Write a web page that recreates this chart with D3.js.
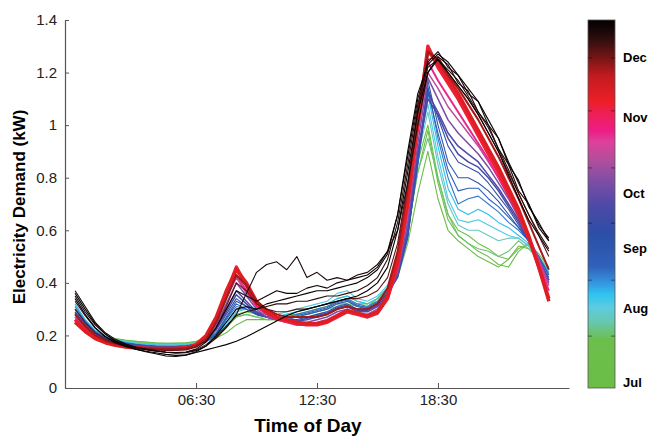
<!DOCTYPE html>
<html>
<head>
<meta charset="utf-8">
<script src="https://cdn.jsdelivr.net/npm/d3@7/dist/d3.min.js"></script>
<style>
  body { margin: 0; background: #fff; }
  text { font-family: "Liberation Sans", Arial, sans-serif; }
</style>
</head>
<body>
<svg id="demand" width="652" height="437"></svg>
<script>
// half-hourly demand (kW), slot 1 = 00:30 ... slot 48 = 24:00
var jul1 = [0.28,0.24,0.21,0.195,0.185,0.18,0.178,0.175,0.172,0.17,0.17,0.17,
            0.175,0.18,0.19,0.21,0.24,0.26,0.26,0.26,0.26,0.27,0.27,0.27,
            0.28,0.29,0.30,0.31,0.30,0.31,0.33,0.36,0.42,0.55,0.74,0.90,
            0.72,0.60,0.56,0.53,0.50,0.48,0.46,0.49,0.54,0.53,0.49,0.44];
var jul2 = [0.27,0.23,0.205,0.19,0.18,0.176,0.172,0.17,0.168,0.168,0.17,0.17,
            0.175,0.185,0.20,0.23,0.27,0.28,0.27,0.26,0.26,0.27,0.28,0.28,
            0.29,0.30,0.32,0.32,0.31,0.31,0.34,0.38,0.45,0.60,0.82,0.98,
            0.78,0.64,0.58,0.55,0.52,0.50,0.47,0.46,0.52,0.55,0.50,0.45];
var jul3 = [0.29,0.245,0.215,0.198,0.188,0.182,0.178,0.174,0.17,0.17,0.17,0.172,
            0.178,0.19,0.21,0.25,0.28,0.29,0.28,0.27,0.27,0.28,0.28,0.29,
            0.30,0.31,0.33,0.34,0.32,0.32,0.34,0.38,0.46,0.63,0.86,1.00,
            0.80,0.66,0.60,0.58,0.55,0.53,0.50,0.49,0.53,0.55,0.51,0.46];
var aug4 = [0.29,0.245,0.212,0.195,0.185,0.179,0.174,0.17,0.167,0.166,0.166,0.168,
            0.174,0.186,0.205,0.24,0.27,0.28,0.27,0.27,0.27,0.28,0.29,0.30,
            0.31,0.32,0.34,0.35,0.33,0.32,0.34,0.38,0.46,0.62,0.82,0.95,
            0.80,0.66,0.58,0.55,0.53,0.52,0.50,0.52,0.56,0.53,0.49,0.45];
var aug1 = [0.30,0.25,0.215,0.195,0.184,0.178,0.172,0.168,0.166,0.165,0.165,0.167,
            0.172,0.185,0.21,0.25,0.29,0.30,0.28,0.27,0.27,0.27,0.28,0.28,
            0.29,0.30,0.31,0.33,0.31,0.31,0.33,0.37,0.46,0.64,0.88,1.05,
            0.85,0.70,0.62,0.60,0.60,0.58,0.56,0.57,0.57,0.54,0.50,0.45];
var aug2 = [0.31,0.255,0.218,0.196,0.183,0.175,0.17,0.166,0.164,0.163,0.163,0.165,
            0.17,0.18,0.20,0.24,0.29,0.31,0.29,0.28,0.28,0.29,0.30,0.31,
            0.32,0.33,0.36,0.37,0.34,0.33,0.35,0.39,0.47,0.65,0.90,1.08,
            0.88,0.72,0.64,0.63,0.64,0.62,0.60,0.58,0.57,0.54,0.49,0.44];
var aug3 = [0.32,0.26,0.22,0.197,0.183,0.174,0.168,0.164,0.162,0.161,0.161,0.163,
            0.168,0.178,0.20,0.25,0.30,0.30,0.28,0.27,0.27,0.28,0.29,0.30,
            0.31,0.32,0.34,0.35,0.33,0.32,0.34,0.38,0.45,0.62,0.88,1.12,
            0.92,0.76,0.68,0.66,0.68,0.66,0.63,0.61,0.58,0.55,0.50,0.44];
var sep1 = [0.31,0.255,0.215,0.193,0.18,0.172,0.166,0.162,0.16,0.159,0.159,0.161,
            0.166,0.176,0.20,0.26,0.31,0.30,0.28,0.27,0.26,0.27,0.28,0.29,
            0.30,0.31,0.33,0.34,0.32,0.31,0.33,0.37,0.43,0.58,0.85,1.15,
            0.95,0.80,0.70,0.72,0.73,0.70,0.67,0.63,0.60,0.56,0.50,0.43];
var sep4 = [0.30,0.25,0.212,0.191,0.179,0.171,0.165,0.161,0.159,0.158,0.158,0.16,
            0.165,0.177,0.205,0.265,0.32,0.30,0.28,0.27,0.26,0.265,0.275,0.285,
            0.295,0.305,0.325,0.335,0.315,0.305,0.325,0.365,0.425,0.575,0.85,1.13,
            0.97,0.83,0.75,0.76,0.76,0.72,0.69,0.65,0.61,0.56,0.50,0.43];
var sep2 = [0.30,0.25,0.21,0.19,0.178,0.17,0.165,0.161,0.159,0.158,0.158,0.16,
            0.165,0.178,0.21,0.27,0.33,0.31,0.28,0.27,0.26,0.26,0.27,0.28,
            0.29,0.30,0.32,0.33,0.31,0.30,0.32,0.36,0.42,0.57,0.86,1.17,
            1.00,0.86,0.80,0.80,0.78,0.75,0.71,0.66,0.61,0.56,0.49,0.42];
var sep3 = [0.29,0.245,0.208,0.188,0.176,0.168,0.163,0.16,0.158,0.157,0.157,0.159,
            0.164,0.18,0.22,0.28,0.34,0.31,0.28,0.27,0.26,0.26,0.26,0.27,
            0.28,0.29,0.31,0.32,0.30,0.30,0.32,0.36,0.43,0.59,0.88,1.14,
            1.03,0.92,0.86,0.84,0.82,0.78,0.73,0.68,0.62,0.56,0.49,0.41];
var oct4 = [0.285,0.242,0.206,0.187,0.175,0.167,0.162,0.159,0.157,0.156,0.156,0.158,
            0.163,0.18,0.225,0.29,0.355,0.32,0.285,0.27,0.26,0.255,0.255,0.265,
            0.275,0.285,0.305,0.315,0.295,0.295,0.315,0.355,0.43,0.59,0.89,1.10,
            1.04,0.95,0.89,0.86,0.84,0.80,0.75,0.69,0.63,0.56,0.49,0.41];
var oct1 = [0.28,0.24,0.205,0.186,0.174,0.166,0.161,0.158,0.156,0.155,0.155,0.157,
            0.163,0.18,0.23,0.30,0.37,0.33,0.29,0.27,0.26,0.255,0.255,0.26,
            0.27,0.28,0.30,0.31,0.29,0.29,0.31,0.35,0.43,0.60,0.90,1.12,
            1.05,0.97,0.92,0.89,0.86,0.81,0.76,0.70,0.64,0.57,0.49,0.41];
var oct2 = [0.27,0.235,0.20,0.183,0.172,0.164,0.159,0.156,0.154,0.153,0.153,0.155,
            0.162,0.185,0.24,0.32,0.40,0.35,0.30,0.27,0.26,0.25,0.25,0.25,
            0.26,0.27,0.29,0.30,0.28,0.28,0.30,0.35,0.44,0.63,0.93,1.18,
            1.10,1.02,0.97,0.93,0.89,0.84,0.78,0.72,0.65,0.57,0.49,0.40];
var oct3 = [0.27,0.23,0.198,0.18,0.17,0.162,0.157,0.154,0.152,0.152,0.152,0.154,
            0.162,0.19,0.25,0.34,0.42,0.36,0.31,0.28,0.26,0.25,0.245,0.245,
            0.25,0.26,0.28,0.30,0.28,0.28,0.30,0.35,0.45,0.66,0.97,1.20,
            1.14,1.07,1.02,0.97,0.92,0.86,0.80,0.73,0.66,0.58,0.49,0.39];
var nov1 = [0.26,0.225,0.195,0.178,0.168,0.16,0.156,0.153,0.151,0.151,0.151,0.153,
            0.162,0.19,0.26,0.35,0.43,0.37,0.31,0.28,0.26,0.25,0.24,0.24,
            0.245,0.255,0.27,0.29,0.28,0.27,0.29,0.34,0.46,0.69,1.00,1.24,
            1.17,1.11,1.05,0.99,0.93,0.87,0.80,0.73,0.66,0.57,0.48,0.37];
var nov2 = [0.26,0.22,0.19,0.175,0.165,0.158,0.154,0.151,0.15,0.15,0.15,0.152,
            0.162,0.19,0.26,0.36,0.46,0.39,0.32,0.285,0.265,0.255,0.245,0.24,
            0.24,0.25,0.27,0.29,0.28,0.27,0.285,0.34,0.47,0.70,1.00,1.30,
            1.22,1.16,1.10,1.03,0.96,0.89,0.82,0.74,0.66,0.57,0.46,0.34];
var nov3 = [0.25,0.215,0.188,0.172,0.162,0.156,0.152,0.15,0.149,0.149,0.15,0.153,
            0.165,0.20,0.27,0.37,0.45,0.40,0.33,0.29,0.27,0.26,0.25,0.245,
            0.245,0.255,0.275,0.295,0.285,0.275,0.29,0.35,0.49,0.73,1.03,1.28,
            1.24,1.18,1.12,1.05,0.98,0.91,0.84,0.76,0.68,0.58,0.46,0.33];
var dec1 = [0.28,0.235,0.20,0.18,0.168,0.16,0.155,0.152,0.15,0.149,0.149,0.151,
            0.16,0.185,0.25,0.34,0.43,0.39,0.33,0.30,0.28,0.27,0.27,0.27,
            0.27,0.28,0.30,0.31,0.30,0.30,0.32,0.38,0.52,0.76,1.05,1.28,
            1.25,1.19,1.14,1.08,1.02,0.95,0.88,0.80,0.72,0.63,0.54,0.45];
var dec2 = [0.30,0.25,0.21,0.185,0.17,0.16,0.153,0.148,0.145,0.143,0.143,0.145,
            0.155,0.18,0.23,0.31,0.40,0.37,0.32,0.30,0.29,0.29,0.30,0.30,
            0.31,0.32,0.33,0.34,0.34,0.35,0.37,0.42,0.55,0.78,1.05,1.25,
            1.26,1.20,1.15,1.10,1.04,0.97,0.90,0.82,0.74,0.66,0.58,0.50];
var dec3 = [0.33,0.275,0.228,0.195,0.175,0.162,0.153,0.146,0.14,0.136,0.134,0.136,
            0.145,0.165,0.195,0.235,0.275,0.29,0.30,0.31,0.32,0.32,0.33,0.33,
            0.34,0.35,0.35,0.36,0.37,0.39,0.42,0.49,0.63,0.85,1.08,1.22,
            1.25,1.21,1.17,1.11,1.05,0.99,0.91,0.83,0.74,0.66,0.59,0.53];
var dec4 = [0.37,0.31,0.25,0.21,0.185,0.168,0.156,0.148,0.142,0.136,0.132,0.134,
            0.142,0.16,0.19,0.23,0.28,0.36,0.44,0.47,0.48,0.45,0.50,0.42,
            0.44,0.41,0.42,0.41,0.43,0.44,0.47,0.52,0.60,0.78,1.00,1.20,
            1.26,1.23,1.16,1.13,1.05,1.00,0.91,0.85,0.75,0.70,0.61,0.56];
var dec5 = [0.35,0.29,0.24,0.205,0.18,0.165,0.155,0.147,0.141,0.137,0.135,0.137,
            0.148,0.175,0.23,0.30,0.37,0.35,0.33,0.35,0.37,0.36,0.36,0.38,
            0.39,0.38,0.40,0.41,0.42,0.43,0.46,0.52,0.66,0.88,1.10,1.24,
            1.28,1.22,1.19,1.12,1.09,1.00,0.95,0.85,0.79,0.69,0.63,0.56];
var dec6 = [0.36,0.30,0.245,0.205,0.178,0.16,0.148,0.138,0.13,0.122,0.12,0.125,
            0.138,0.16,0.20,0.25,0.30,0.31,0.30,0.32,0.33,0.34,0.35,0.36,
            0.37,0.37,0.38,0.39,0.40,0.42,0.45,0.51,0.66,0.90,1.12,1.23,
            1.27,1.24,1.19,1.14,1.09,1.02,0.95,0.86,0.78,0.70,0.62,0.57];
var dec7 = [0.34,0.28,0.23,0.195,0.172,0.158,0.148,0.14,0.134,0.128,0.124,0.126,
            0.135,0.145,0.155,0.165,0.178,0.195,0.215,0.235,0.255,0.275,0.29,0.30,
            0.31,0.32,0.33,0.34,0.35,0.37,0.40,0.46,0.60,0.82,1.05,1.20,
            1.25,1.20,1.15,1.10,1.04,0.97,0.90,0.81,0.72,0.64,0.58,0.52];

// position of each day on the season colour bar (0 = start of Jul, 1 = end of Dec)
var dayNames = ["jul1","jul2","jul3","aug4","aug1","aug2","aug3","sep1","sep4","sep2","sep3",
                "oct4","oct1","oct2","oct3","nov1","nov2","nov3","dec1","dec2","dec3",
                "dec4","dec5","dec6","dec7"];
var dayValues = [jul1,jul2,jul3,aug4,aug1,aug2,aug3,sep1,sep4,sep2,sep3,
                 oct4,oct1,oct2,oct3,nov1,nov2,nov3,dec1,dec2,dec3,
                 dec4,dec5,dec6,dec7];
var daySeason = [0.03,0.07,0.12,0.15,0.19,0.23,0.26,0.31,0.35,0.38,0.44,
                 0.47,0.50,0.56,0.63,0.69,0.77,0.80,0.87,0.91,0.95,
                 0.97,0.98,0.99,1.0];

var timeTicks = [13, 25, 37];
var timeLabels = ["06:30", "12:30", "18:30"];
var demandTicks = [0, 0.2, 0.4, 0.6, 0.8, 1, 1.2, 1.4];

var monthLabels = ["Jul", "Aug", "Sep", "Oct", "Nov", "Dec"];
var monthLabelAt = [0.016, 0.217, 0.378, 0.528, 0.734, 0.897];
var barTicks = [0.141, 0.293, 0.448, 0.598, 0.753, 0.897];
var stopAt = [0, 0.13, 0.18, 0.22, 0.255, 0.29, 0.33, 0.42, 0.50, 0.56, 0.62,
              0.67, 0.70, 0.74, 0.78, 0.85, 0.90, 0.95, 1];
var stopColor = ["#6abd45","#6cbf4a","#66c8b0","#5ccce0","#2ec3f0","#3590dc",
                 "#2f62ba","#2c4ea6","#5049a8","#7c4ea6","#b24e9c","#e0409a",
                 "#ee1c84","#ee1f5c","#ec1f26","#c01b1f","#721515","#2d0d0d","#000000"];

var svg = d3.select("#demand"),
    margin = {top: 20, right: 83, bottom: 49, left: 65},
    width = svg.attr("width") - margin.left - margin.right,
    height = svg.attr("height") - margin.top - margin.bottom;

var x = d3.scaleLinear().domain([0, 50]).range([0, width]),
    y = d3.scaleLinear().domain([0, 1.4]).range([height, 0]),
    season = d3.scaleLinear().domain(stopAt).range(stopColor).interpolate(d3.interpolateRgb);

var g = svg.append("g")
    .attr("transform", "translate(" + margin.left + "," + margin.top + ")");

var line = d3.line()
    .x(function(d, i) { return x(i + 1); })
    .y(function(d) { return y(d); });

function strokeFor(name) {
  if (name == "nov2" || name == "nov3") return 3.4;
  if (name == "nov1" || name == "dec1") return 2;
  if (name.indexOf("oct") == 0) return 1.5;
  return 1.1;
}

var days = dayNames.map(function(n, i) {
  return {name: n, values: dayValues[i], t: daySeason[i]};
});

g.selectAll(".day")
  .data(days)
  .enter().append("path")
    .attr("class", "day")
    .attr("fill", "none")
    .attr("stroke", function(d) { return season(d.t); })
    .attr("stroke-width", function(d) { return strokeFor(d.name); })
    .attr("stroke-linejoin", "round")
    .attr("d", function(d) { return line(d.values); });

// axes
var xAxis = g.append("g")
    .attr("transform", "translate(0," + height + ")")
    .call(d3.axisBottom(x).tickValues(timeTicks)
      .tickFormat(function(d, i) { return timeLabels[i]; })
      .tickSizeInner(-5).tickSizeOuter(0).tickPadding(6));

var yAxis = g.append("g")
    .call(d3.axisLeft(y).tickValues(demandTicks)
      .tickFormat(function(d) { return String(+d.toFixed(1)); })
      .tickSizeInner(-4).tickSizeOuter(0).tickPadding(8));

[xAxis, yAxis].forEach(function(a) {
  a.select(".domain").attr("stroke", "#555").attr("stroke-width", 1.2);
  a.selectAll(".tick line").attr("stroke", "#555");
  a.selectAll(".tick text").attr("fill", "#222").style("font-size", "15px");
});

svg.append("text")
  .attr("x", 308).attr("y", 432)
  .attr("text-anchor", "middle")
  .style("font-size", "19px").style("font-weight", "bold")
  .text("Time of Day");

svg.append("text")
  .attr("transform", "translate(25,207) rotate(-90)")
  .attr("text-anchor", "middle")
  .style("font-size", "17px").style("font-weight", "bold")
  .text("Electricity Demand (kW)");

// colour bar
var barX = 588, barW = 27;
var bar = d3.scaleLinear().domain([0, 1]).range([margin.top + height, margin.top]);

var grad = svg.append("defs").append("linearGradient")
    .attr("id", "seasonGrad")
    .attr("x1", 0).attr("y1", 1).attr("x2", 0).attr("y2", 0);
grad.selectAll("stop")
  .data(stopAt)
  .enter().append("stop")
    .attr("offset", function(d) { return d; })
    .attr("stop-color", function(d, i) { return stopColor[i]; });

svg.append("rect")
  .attr("x", barX).attr("y", bar(1))
  .attr("width", barW).attr("height", bar(0) - bar(1))
  .attr("fill", "url(#seasonGrad)")
  .attr("stroke", "#555").attr("stroke-width", 0.8);

barTicks.forEach(function(t) {
  svg.append("line")
    .attr("x1", barX).attr("x2", barX + 4)
    .attr("y1", bar(t)).attr("y2", bar(t))
    .attr("stroke", "rgba(0,0,0,0.45)");
  svg.append("line")
    .attr("x1", barX + barW - 4).attr("x2", barX + barW)
    .attr("y1", bar(t)).attr("y2", bar(t))
    .attr("stroke", "rgba(0,0,0,0.45)");
});

svg.selectAll(".month")
  .data(monthLabels)
  .enter().append("text")
    .attr("class", "month")
    .attr("x", 623)
    .attr("y", function(d, i) { return bar(monthLabelAt[i]); })
    .attr("dy", "0.35em")
    .style("font-size", "13px").style("font-weight", "bold")
    .text(function(d) { return d; });
</script>
</body>
</html>
